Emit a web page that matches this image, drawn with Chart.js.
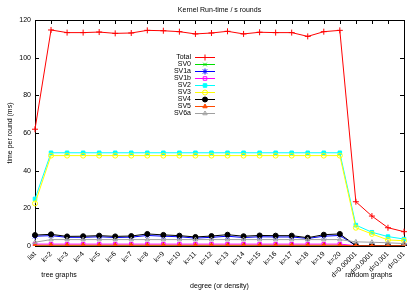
<!DOCTYPE html>
<html>
<head>
<meta charset="utf-8">
<script src="https://cdn.jsdelivr.net/npm/chart.js@4"></script>
<style>
  html, body { margin: 0; padding: 0; background: #fff; }
  #wrap { width: 415px; height: 291px; }
</style>
</head>
<body>
<div id="wrap"><canvas id="chart" width="415" height="291"></canvas></div>
<script>
const categories = ['list', 'k=2', 'k=3', 'k=4', 'k=5', 'k=6', 'k=7', 'k=8', 'k=9', 'k=10',
  'k=11', 'k=12', 'k=13', 'k=14', 'k=15', 'k=16', 'k=17', 'k=18', 'k=19', 'k=20',
  'd=0.00001', 'd=0.0001', 'd=0.001', 'd=0.01'];

const total = [62, 114.7, 113.3, 113.3, 113.6, 112.9, 113.1, 114.5, 114.3, 113.8, 112.6, 113.1,
  114.0, 112.6, 113.5, 113.3, 113.3, 111.3, 113.8, 114.5, 23.5, 15.9, 9.7, 7.6];
const sv0 = [0.1, 0.1, 0.1, 0.1, 0.1, 0.1, 0.1, 0.1, 0.1, 0.1, 0.1, 0.1,
  0.1, 0.1, 0.1, 0.1, 0.1, 0.1, 0.1, 0.1, 0, 0, 0, 0];
const sv1a = [5.2, 5.5, 4.6, 4.6, 4.9, 4.5, 4.7, 5.6, 5.2, 4.9, 4.2, 4.6,
  5.2, 4.5, 4.9, 4.8, 4.8, 4.0, 5.2, 5.6, 0.2, 0.2, 0.2, 0.2];
const sv1b = [1.0, 1.0, 1.0, 1.0, 1.0, 1.0, 1.0, 1.0, 1.0, 1.0, 1.0, 1.0,
  1.0, 1.0, 1.0, 1.0, 1.0, 1.0, 1.0, 1.0, 0.2, 0.2, 0.2, 0.2];
const sv2 = [25, 49.5, 49.5, 49.5, 49.5, 49.5, 49.5, 49.5, 49.5, 49.5, 49.5, 49.5,
  49.5, 49.5, 49.5, 49.5, 49.5, 49.5, 49.5, 49.5, 11.1, 7.3, 5.0, 3.7];
const sv3 = [22.6, 48, 48, 48, 48, 48, 48, 48, 48, 48, 48, 48,
  48, 48, 48, 48, 48, 48, 48, 48, 9.7, 6.4, 3.2, 2.8];
const sv4 = [5.8, 6.2, 5.1, 5.2, 5.5, 5.1, 5.3, 6.4, 5.9, 5.5, 4.8, 5.3,
  6.0, 5.2, 5.6, 5.5, 5.5, 4.4, 6.0, 6.4, 0.2, 0.2, 0.2, 0.2];
const sv5 = [0.4, 0.4, 0.4, 0.4, 0.4, 0.4, 0.4, 0.4, 0.4, 0.4, 0.4, 0.4,
  0.4, 0.4, 0.4, 0.4, 0.4, 0.4, 0.4, 0.4, 0.1, 0.1, 0.1, 0.1];
const sv6a = [2.0, 3.4, 3.4, 3.4, 3.4, 3.4, 3.4, 3.4, 3.4, 3.4, 3.4, 3.4,
  3.4, 3.4, 3.4, 3.4, 3.4, 3.4, 3.4, 3.4, 2.2, 2.0, 1.7, 1.3];

const yTicks = [0, 20, 40, 60, 80, 100, 120];
const FONT = 'Liberation Sans, Arial, sans-serif';

function series(label, data, color, pointStyle, filled, radius) {
  return {
    label, data,
    borderColor: color,
    backgroundColor: filled ? color : 'rgba(255,255,255,0)',
    pointStyle,
    pointRadius: radius,
    pointBorderWidth: 1,
    borderWidth: 1,
    tension: 0
  };
}

const datasets = [
  series('Total', total, '#ff0000', 'cross', false, 3),
  series('SV0', sv0, '#00e000', 'crossRot', false, 2.5),
  series('SV1a', sv1a, '#0000ff', 'star', false, 3),
  series('SV1b', sv1b, '#ff00ff', 'rect', false, 2.5),
  series('SV2', sv2, '#00ffff', 'rect', true, 2.5),
  series('SV3', sv3, '#ffff00', 'circle', false, 2.5),
  series('SV4', sv4, '#000000', 'circle', true, 2.5),
  series('SV5', sv5, '#ff4a00', 'triangle', true, 2.5),
  series('SV6a', sv6a, '#a0a0a0', 'triangle', false, 2.5)
];
// gnuplot draws later series on top
datasets.forEach((d, i) => { d.order = datasets.length - 1 - i; });

// box with inward ticks, title, captions and legend like gnuplot
const frame = {
  id: 'frame',
  beforeDatasetsDraw(chart) {
    const { ctx, chartArea: a, scales: { x, y } } = chart;
    ctx.save();
    ctx.strokeStyle = '#000';
    ctx.lineWidth = 1;
    ctx.beginPath();
    categories.forEach((c, i) => {
      const px = Math.round(x.getPixelForTick(i)) + 0.5;
      ctx.moveTo(px, a.bottom); ctx.lineTo(px, a.bottom - 4);
      ctx.moveTo(px, a.top); ctx.lineTo(px, a.top + 4);
    });
    yTicks.forEach(v => {
      const py = Math.round(y.getPixelForValue(v)) + 0.5;
      ctx.moveTo(a.left, py); ctx.lineTo(a.left + 4, py);
      ctx.moveTo(a.right, py); ctx.lineTo(a.right - 4, py);
    });
    ctx.stroke();
    ctx.strokeRect(Math.round(a.left) + 0.5, Math.round(a.top) + 0.5,
      Math.round(a.right - a.left), Math.round(a.bottom - a.top));
    ctx.restore();
  },
  afterDraw(chart) {
    const { ctx, chartArea: a, scales: { x } } = chart;
    ctx.save();
    ctx.font = '7px ' + FONT;
    ctx.fillStyle = '#000';
    ctx.textBaseline = 'middle';
    ctx.textAlign = 'center';
    ctx.fillText('Kernel Run-time / s rounds', (a.left + a.right) / 2, 10.5);
    // group captions under the tick labels
    const treeX = (x.getPixelForTick(1) + x.getPixelForTick(2)) / 2;
    const p20 = x.getPixelForTick(20), p21 = x.getPixelForTick(21);
    ctx.fillText('tree graphs', treeX, 275);
    ctx.fillText('random graphs', p20 + 0.8 * (p21 - p20), 275);
    // legend inside the plot
    datasets.forEach((d, i) => {
      const ly = 57.5 + 7 * i;
      ctx.textAlign = 'right';
      ctx.fillStyle = '#000';
      ctx.fillText(d.label, 191, ly);
      ctx.strokeStyle = d.borderColor;
      ctx.lineWidth = 1;
      ctx.beginPath();
      ctx.moveTo(195, ly); ctx.lineTo(215, ly);
      ctx.stroke();
      ctx.fillStyle = d.backgroundColor;
      Chart.helpers.drawPoint(ctx, {
        pointStyle: d.pointStyle, radius: d.pointRadius, rotation: 0, borderWidth: 1
      }, 205, ly);
    });
    ctx.restore();
  }
};

new Chart(document.getElementById('chart'), {
  type: 'line',
  data: { labels: categories, datasets },
  plugins: [frame],
  options: {
    responsive: false,
    animation: false,
    layout: { padding: { left: 0, right: 11, top: 20, bottom: 0 } },
    plugins: {
      legend: { display: false },
      tooltip: { enabled: false },
      title: { display: false }
    },
    scales: {
      x: {
        type: 'category',
        offset: false,
        grid: { display: false, drawTicks: false },
        border: { display: false },
        ticks: {
          autoSkip: false, maxRotation: 45, minRotation: 45,
          color: '#000', font: { family: FONT, size: 7 }, padding: 4
        },
        title: {
          display: true, text: 'degree (or density)', color: '#000',
          font: { family: FONT, size: 7 }, padding: { top: 0, bottom: 1 }
        },
        afterFit(scale) { scale.height = 45; }
      },
      y: {
        min: 0, max: 120,
        grid: { display: false, drawTicks: false },
        border: { display: false },
        ticks: {
          stepSize: 20, color: '#000', font: { family: FONT, size: 7 }, padding: 4
        },
        title: {
          display: true, text: 'time per round (ms)', color: '#000',
          font: { family: FONT, size: 7 }, padding: { top: 6, bottom: 0 }
        },
        afterFit(scale) { scale.width = 35; }
      }
    }
  }
});
</script>
</body>
</html>
